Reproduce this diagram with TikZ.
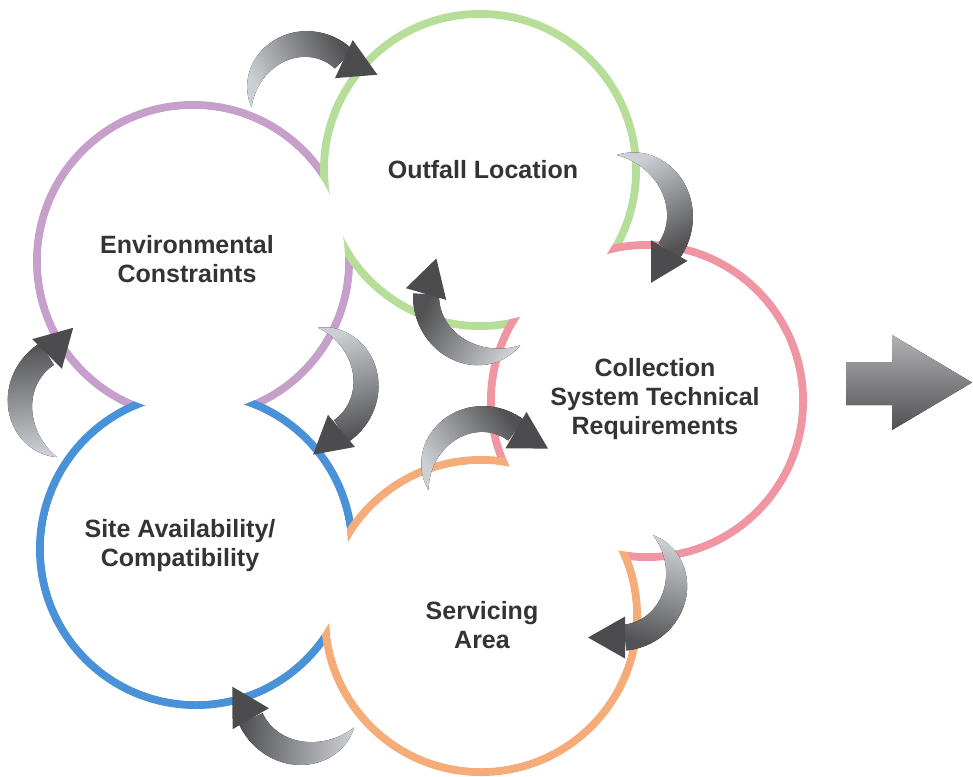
\documentclass[tikz,border=0pt]{standalone}
\usepackage{fontspec}
\setmainfont{Liberation Sans}
\usetikzlibrary{calc}
\definecolor{cpurple}{RGB}{198,160,202}
\definecolor{cgreen}{RGB}{182,222,152}
\definecolor{cpink}{RGB}{240,150,162}
\definecolor{cblue}{RGB}{74,146,216}
\definecolor{corange}{RGB}{245,172,120}
\definecolor{arrlight}{RGB}{204,207,211}
\definecolor{arrdark}{RGB}{82,82,84}
\definecolor{arrhead}{RGB}{76,76,78}
\definecolor{bigtop}{RGB}{178,178,180}
\definecolor{bigbot}{RGB}{80,80,82}
\definecolor{txt}{RGB}{52,52,56}
% #1 centre, #2 radius, #3 tail angle, #4 neck angle, #5 head direction, #6 shading angle, #7 name
\newcommand{\cyclearrow}[7]{%
  \fill[shift={#1},top color=arrdark,bottom color=arrlight,shading angle=#6]
    plot[domain=0:1,samples=40,variable=\t]
      ({#3+\t*((#4)-(#3))}:{#2+13*(1-(1-sin(\t*90))^2)})
    -- plot[domain=0:1,samples=40,variable=\t]
      ({#4-\t*((#4)-(#3))}:{#2-13*(1-(1-sin((1-\t)*90))^2)})
    -- cycle;
  \coordinate (#7) at ($#1+(#4:#2)$);
  \fill[arrhead] ($(#7)+(#5+90:21)$) -- ($(#7)+(#5:37)$) -- ($(#7)+(#5-90:21)$) -- cycle;
}
\tikzset{
  ring/.style={line width=8pt},
  lbl/.style={font=\fontsize{25}{29}\selectfont\bfseries, text=txt, align=center, inner sep=0pt}
}
\begin{document}
\begin{tikzpicture}[x=1pt,y=-1pt]
\useasboundingbox (0,0) rectangle (973,776);
\fill[white] (0,0) rectangle (973,776);

\coordinate (cEnv) at (193,261);
\coordinate (cOut) at (480,170);
\coordinate (cCol) at (647,401);
\coordinate (cSite) at (196,549);
\coordinate (cServ) at (481,616);

\foreach \c/\k in {cEnv/cpurple, cOut/cgreen, cCol/cpink, cSite/cblue, cServ/corange}
  \draw[draw=\k, ring] (\c) circle (156);
\foreach \c in {cEnv, cOut, cCol, cSite, cServ}
  \fill[white] (\c) circle (152);

\node[lbl] (env) at (187,259) {Environmental\\Constraints};
\node[lbl] (out) at (483,170) {Outfall Location};
\node[lbl] (col) at (655,399) {Collection\\System Technical\\Requirements};
\node[lbl] (site) at (180,546) {Site Availability/\\Compatibility};
\node[lbl] (serv) at (482,625) {Servicing\\Area};

\cyclearrow{(306,99)}{55}{171.6}{313.5}{25}{-62.4}{a1}
\cyclearrow{(619,216)}{61}{-91.9}{34.5}{119.4}{-151.6}{a2}
\cyclearrow{(486,296)}{60}{55.2}{181.9}{-73.8}{61.5}{a3}
\cyclearrow{(309,384)}{57}{-80.9}{55.3}{140}{-167.4}{a4}
\cyclearrow{(78,403)}{58}{111.3}{237.7}{-45}{5.5}{a5}
\cyclearrow{(482.5,475)}{56}{164.6}{306.7}{30}{-55.7}{a6}
\cyclearrow{(619.5,581)}{56.8}{-53.9}{84.4}{180}{164.7}{a7}
\cyclearrow{(305,693.5)}{59.8}{34.6}{155.1}{240}{85.1}{a8}

\fill[top color=bigtop, bottom color=bigbot]
  (846,362) -- (892,362) -- (892,335) -- (972,382.5) -- (892,430) -- (892,405) -- (846,405) -- cycle;
\end{tikzpicture}
\end{document}
